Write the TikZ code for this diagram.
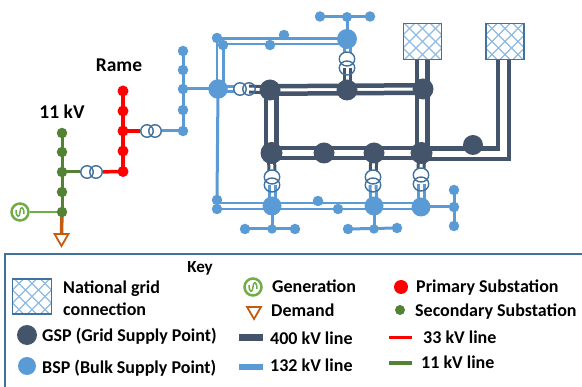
\documentclass[tikz,border=0pt]{standalone}
\usepackage{fontspec}
\setmainfont{Carlito}
\usetikzlibrary{shapes.geometric,backgrounds}
\definecolor{gspc}{HTML}{44546A}
\definecolor{bspc}{HTML}{5B9BD5}
\definecolor{grn}{HTML}{548235}
\definecolor{lgrn}{HTML}{70AD47}
\definecolor{org}{HTML}{C55A11}
\definecolor{trc}{HTML}{41719C}
\definecolor{hatchc}{HTML}{8FBBE3}
\tikzset{
  dot/.style={circle,inner sep=0pt,minimum size=#1},
  gsp/.style={dot=#1,fill=gspc},
  bsp/.style={dot=#1,fill=bspc},
  sec/.style={dot=#1,fill=grn},
  pri/.style={dot=#1,fill=red},
  trv/.style={ellipse,inner sep=0pt,minimum width=15.5pt,minimum height=14pt,draw=trc,line width=1.4pt},
  trh/.style={circle,inner sep=0pt,minimum size=12.5pt,draw=trc,line width=1.4pt},
  fw/.style={fill=white},
  gen/.style={circle,inner sep=0pt,minimum size=17pt,draw=lgrn,line width=2.5pt,fill=white,
    path picture={\draw[lgrn,line width=1.5pt]
      ([shift={(-4pt,2pt)}]path picture bounding box.center)
      .. controls ([shift={(-4pt,-6pt)}]path picture bounding box.center) and ([shift={(0pt,-6pt)}]path picture bounding box.center) .. ([shift={(0pt,0pt)}]path picture bounding box.center)
      .. controls ([shift={(0pt,6pt)}]path picture bounding box.center) and ([shift={(4pt,6pt)}]path picture bounding box.center) .. ([shift={(4pt,-2pt)}]path picture bounding box.center);}},
  dem/.style={isosceles triangle,isosceles triangle apex angle=60,shape border rotate=-90,inner sep=0pt,minimum size=#1,draw=org,line width=1.8pt,fill=white},
  ng/.style={rectangle,inner sep=0pt,minimum width=38pt,minimum height=36pt,draw=trc,line width=1.5pt,fill=white,
    path picture={\foreach \k in {-5,...,5}{
      \draw[hatchc,line width=1.1pt] ([shift={(\k*13pt-40pt,-40pt)}]path picture bounding box.center) -- ([shift={(\k*13pt+40pt,40pt)}]path picture bounding box.center);
      \draw[hatchc,line width=1.1pt] ([shift={(\k*13pt+40pt,-40pt)}]path picture bounding box.center) -- ([shift={(\k*13pt-40pt,40pt)}]path picture bounding box.center);}}},
  hvs/.style={draw=gspc,line width=4.5pt},
  hvt/.style={draw=gspc,line width=3pt},
  mvd/.style={draw=bspc,line width=2.5pt},
  mvt/.style={draw=bspc,line width=3pt},
  mvs/.style={draw=bspc,line width=3pt},
  rl/.style={draw=red,line width=3.5pt},
  gl/.style={draw=grn,line width=3pt},
  txt/.style={anchor=base west,inner sep=0pt,font=\fontsize{18}{20}\selectfont\bfseries,text=black},
  ttl/.style={anchor=center,inner sep=0pt,font=\fontsize{19.5}{22}\selectfont\bfseries,text=black},
}
% two parallel rails between two named points
\newcommand\railh[4][0]{\draw[#2] ([yshift=#1pt]#3.center) -- ([yshift=#1pt]#4.center);\draw[#2] ([yshift=-#1pt]#3.center) -- ([yshift=-#1pt]#4.center);}
\newcommand\railv[4][0]{\draw[#2] ([xshift=#1pt]#3.center) -- ([xshift=#1pt]#4.center);\draw[#2] ([xshift=-#1pt]#3.center) -- ([xshift=-#1pt]#4.center);}
\begin{document}
\begin{tikzpicture}[x=1pt,y=-1pt]
\useasboundingbox (0,0) rectangle (582,387);
% labels
\node[ttl] (lrame) at (119,65) {Rame};
\node[ttl] (l11) at (62,112) {11 kV};
% 11 kV feeder
\node[sec=10.5pt] (g1) at (62,133) {};
\node[sec=10.5pt] (g2) at (62,152) {};
\node[sec=10.5pt] (g3) at (62,172) {};
\node[sec=10.5pt] (g4) at (62,192) {};
\node[sec=10.5pt] (g5) at (62,212) {};
\node[gen] (gen1) at (20,212) {};
\node[dem=12pt] (dem1) at (61.5,238) {};
% transformer 11/33
\node[trh,fw] (t1a) at (87,172) {};
\node[trh] (t1b) at (96,172) {};
% 33 kV feeder
\node[pri=11pt] (r1) at (123,91) {};
\node[pri=11pt] (r2) at (123,111) {};
\node[pri=11pt] (r3) at (123,131) {};
\node[pri=11pt] (r4) at (123,151) {};
\node[pri=11pt] (r5) at (123,171.5) {};
% transformer 33/132
\node[trh,fw] (t2a) at (147,131) {};
\node[trh] (t2b) at (155,131) {};
% 132 feeder
\node[bsp=10.5pt] (b1) at (183,51) {};
\node[bsp=10.5pt] (b2) at (183,70) {};
\node[bsp=10.5pt] (b3) at (183,89) {};
\node[bsp=10.5pt] (b4) at (183,110) {};
\node[bsp=10.5pt] (b5) at (183,131) {};
\node[bsp=19.5pt] (B1) at (218,89) {};
% transformer west
\node[trh,fw] (t3a) at (240,89) {};
\node[trh] (t3b) at (249,89) {};
% top ring
\node[bsp=10.5pt] (a1) at (217,38) {};
\node[bsp=10.5pt] (a2) at (223,45) {};
\node[bsp=10.5pt] (a3) at (284,35) {};
\node[bsp=10.5pt] (a4) at (270,45) {};
\node[bsp=20pt] (B2) at (347,39) {};
\coordinate (cb1) at (347,38.5);
\coordinate (cb2) at (347,44);
\coordinate (ca1) at (217,38.5);
\coordinate (ca2) at (223.5,44);
\coordinate (ca3) at (217,89);
\coordinate (ca4) at (223.5,89);
\node[bsp=10pt] (a5) at (347,17) {};
\node[bsp=10.5pt] (a6) at (320,16.5) {};
\node[bsp=10.5pt] (a7) at (370,16.5) {};
\node[trv,fw] (t4a) at (347,59) {};
\node[trv] (t4b) at (347,68) {};
% GSPs
\node[gsp=21pt] (G1) at (270,90) {};
\node[gsp=21pt] (G2) at (347,90) {};
\node[gsp=21pt] (G3) at (423,89) {};
\node[gsp=22pt] (G4) at (271.5,153) {};
\node[gsp=21pt] (G5) at (324,153) {};
\node[gsp=21pt] (G6) at (374,153) {};
\node[gsp=22pt] (G7) at (421.5,153) {};
\node[gsp=20pt] (G8) at (473,145) {};
% national grid
\node[ng] (N1) at (422.5,41.5) {};
\node[ng] (N2) at (505,41.5) {};
\coordinate (n1t) at (422,58);
\coordinate (n1b) at (422,153);
\coordinate (g1b) at (271,90);
\coordinate (g4t) at (271,153);
\coordinate (n2a) at (498,58);
\coordinate (n2b) at (498,148.5);
\coordinate (n2c) at (421,148.5);
\coordinate (n2d) at (509,58);
\coordinate (n2e) at (509,159);
\coordinate (n2f) at (421,159);
% south transformers
\node[trv,fw] (t5a) at (272,177) {};
\node[trv] (t5b) at (272,185) {};
\node[trv,fw] (t6a) at (373,177) {};
\node[trv] (t6b) at (373,185) {};
\node[trv,fw] (t7a) at (421,175) {};
\node[trv] (t7b) at (421,184) {};
% south BSPs
\node[bsp=19pt] (B3) at (272,206) {};
\node[bsp=19pt] (B4) at (374,206) {};
\node[bsp=19pt] (B5) at (421,207) {};
\node[bsp=10.5pt] (s1) at (217,200) {};
\node[bsp=10.5pt] (s2) at (217,209) {};
\node[bsp=10.5pt] (s3) at (318,201) {};
\node[bsp=10.5pt] (s4) at (338,209) {};
\coordinate (sw) at (217,206);
\coordinate (se) at (421,206);
\node[bsp=10.5pt] (u1) at (245,229) {};
\node[bsp=9.5pt] (u2) at (272,229) {};
\node[bsp=10.5pt] (u3) at (295,229) {};
\node[bsp=10.5pt] (v1) at (348,229) {};
\node[bsp=9.5pt] (v2) at (374,229) {};
\node[bsp=10.5pt] (v3) at (397,228) {};
\node[bsp=10.5pt] (w1) at (454,190) {};
\node[bsp=10.5pt] (w2) at (454,207) {};
\node[bsp=10.5pt] (w3) at (454,226) {};
% key
\coordinate (k1) at (5,254);
\coordinate (k2) at (590,395);
\draw[draw=trc,line width=2pt] (k1) rectangle (k2);
\node[ttl,font=\fontsize{17}{20}\selectfont\bfseries] (lkey) at (200,268) {Key};
\node[ng,minimum width=39pt,minimum height=35pt] (kng) at (32,296.5) {};
\node[txt] (tng1) at (63,294) {National grid};
\node[txt] (tng2) at (63,316) {connection};
\node[gsp=20pt] (kg) at (27,335) {};
\node[txt] (tg) at (42,342) {GSP (Grid Supply Point)};
\node[bsp=18pt] (kb) at (27,366) {};
\node[txt] (tb) at (42,374) {BSP (Bulk Supply Point)};
\node[gen] (kgen) at (253,287) {};
\node[txt] (tgen) at (272,293) {Generation};
\node[dem=12pt] (kdem) at (254,311) {};
\node[txt] (tdem) at (271,317) {Demand};
\node[txt] (t400) at (270,345) {400 kV line};
\node[txt] (t132) at (270,372) {132 kV line};
\coordinate (l1a) at (239,337.5); \coordinate (l1b) at (263,337.5);
\coordinate (l2a) at (239,367); \coordinate (l2b) at (263,367);
\coordinate (l3a) at (389,338); \coordinate (l3b) at (412,338);
\coordinate (l4a) at (389,363); \coordinate (l4b) at (412,363);
\draw[gspc,line width=7pt] (l1a) -- (l1b);
\draw[bspc,line width=5.5pt] (l2a) -- (l2b);
\draw[red,line width=3pt] (l3a) -- (l3b);
\draw[grn,line width=4pt] (l4a) -- (l4b);
\node[pri=14pt] (kp) at (401,287) {};
\node[txt] (tp) at (416,293) {Primary Substation};
\node[sec=10pt] (ks) at (400,310) {};
\node[txt] (ts) at (415,317) {Secondary Substation};
\node[txt] (t33) at (423,344) {33 kV line};
\node[txt] (t11) at (421,369) {11 kV line};
% connectors behind the nodes
\begin{pgfonlayer}{background}
\draw[gl] (g1.center) -- (g5.center);
\draw[draw=lgrn,line width=2.5pt] (gen1) -- (g5.center);
\draw[draw=org,line width=3.5pt] (g5.center) -- (dem1.north);
\draw[gl] (g3.center) -- (t1a);
\draw[rl] (t1b) -- (r5.center);
\draw[rl] (r1.center) -- (r5.center);
\draw[rl] (r3.center) -- (t2a);
\draw[mvs] (t2b) -- (b5.center);
\draw[mvs] (b1.center) -- (b5.center);
\draw[mvs] (b3.center) -- (B1.center);
\draw[mvs] (B1.center) -- (s1.center);
\railh[2.75]{mvt}{B1}{t3a}
\railh[3]{hvt}{t3b}{G1}
\draw[mvd] (ca3) -- (ca1) -- (cb1);
\draw[mvd] (ca4) -- (ca2) -- (cb2);
\draw[mvs] (B2.center) -- (a5.center);
\draw[mvs] (a6.center) -- (a7.center);
\railv[3]{mvt}{B2}{t4a}
\railv[3]{hvt}{t4b}{G2}
\railh[3.75]{hvs}{G1}{G3}
\railv[5.25]{hvs}{n1t}{n1b}
\railv[5.25]{hvs}{g1b}{g4t}
\draw[hvs] (n2a) -- (n2b) -- (n2c);
\draw[hvs] (n2d) -- (n2e) -- (n2f);
\railh[5]{hvs}{G4}{G7}
\railv[3]{hvt}{G4}{t5a}
\railv[3]{hvt}{G6}{t6a}
\railv[3]{hvt}{G7}{t7a}
\railv[3]{mvt}{t5b}{B3}
\railv[3]{mvt}{t6b}{B4}
\railv[3]{mvt}{t7b}{B5}
\railh[3]{mvd}{sw}{se}
\draw[mvs] (B3.center) -- (u2.center);
\draw[mvs] (u1.center) -- (u3.center);
\draw[mvs] (B4.center) -- (v2.center);
\draw[mvs] (v1.center) -- (v3.center);
\draw[mvs] (B5.center) -- (w2.center);
\draw[mvs] (w1.center) -- (w3.center);
\end{pgfonlayer}
\end{tikzpicture}
\end{document}
